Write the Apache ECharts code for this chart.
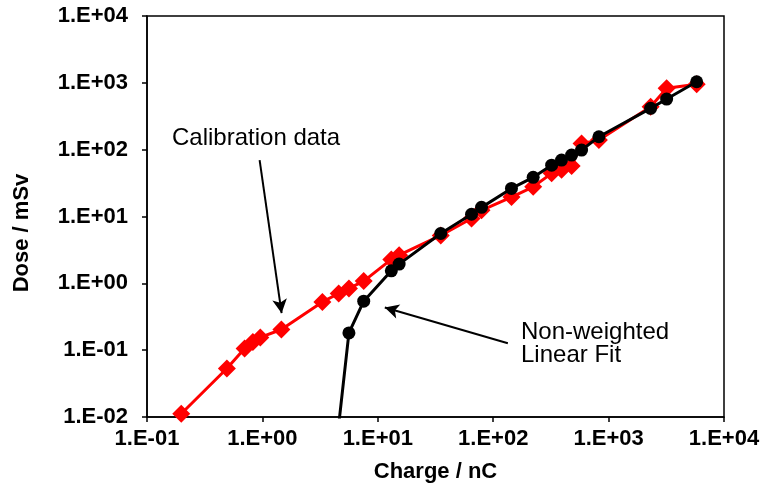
<!DOCTYPE html>
<html>
<head>
<meta charset="utf-8">
<script src="https://cdn.jsdelivr.net/npm/echarts@6/dist/echarts.min.js"></script>
<style>
html,body{margin:0;padding:0;background:#fff;}
#chart{width:763px;height:487px;}
</style>
</head>
<body>
<div id="chart"></div>
<script>
// Charge (nC) values shared by both series
const charge = [0.198, 0.492, 0.701, 0.827, 0.959, 1.46, 3.31, 4.58, 5.62, 7.55, 13.1, 15.3,
  35.1, 64.9, 79.2, 144, 222, 321, 391, 478, 583, 824, 2312, 3184, 5796];
// Calibration data (Dose / mSv)
const doseCalibration = [0.0112, 0.0531, 0.106, 0.133, 0.155, 0.204, 0.527, 0.705, 0.838, 1.08, 2.28, 2.64,
  5.2, 9.35, 12.4, 19.5, 27.8, 44.2, 50, 57, 124, 139, 439, 828, 950];
// Non-weighted linear fit (Dose / mSv); null where fit is non-positive
const doseFit = [null, null, null, null, null, null, null, 0.0075, 0.181, 0.541, 1.54, 1.94,
  5.57, 10.8, 13.7, 26.3, 38.5, 58.7, 69.8, 83, 98.6, 156, 415, 572, 1038];

// axis ranges
const xRange = [0.1, 10000];
const yRange = [0.01, 10000];

// annotation arrows [from, to] in data coordinates
const arrowCalibration = [[0.946, 69.8], [1.467, 0.357]];
const arrowFit = [[134, 0.127], [11.5, 0.434]];

const fontFamily = 'Liberation Sans, Arial, sans-serif';

function expLabel(v) {
  const e = Math.round(Math.log10(v));
  return '1.E' + (e < 0 ? '-' : '+') + String(Math.abs(e)).padStart(2, '0');
}

const chart = echarts.init(document.getElementById('chart'), null, {renderer: 'canvas'});

const option = {
  animation: false,
  backgroundColor: '#fff',
  grid: {
    left: 147, right: 39, top: 16, bottom: 70,
    outerBoundsMode: 'none', containLabel: false,
    show: true, borderColor: '#000', borderWidth: 1.5, backgroundColor: 'transparent'
  },
  xAxis: {
    type: 'log', logBase: 10, min: xRange[0], max: xRange[1],
    name: 'Charge / nC', nameLocation: 'middle', nameGap: 44,
    nameTextStyle: {fontFamily, fontSize: 22, fontWeight: 'bold', color: '#000'},
    axisLine: {lineStyle: {color: '#000', width: 1.5}},
    axisTick: {show: true, inside: false, length: 5, lineStyle: {color: '#000', width: 1.5}},
    minorTick: {show: false},
    splitLine: {show: false},
    axisLabel: {formatter: expLabel, fontFamily, fontSize: 22, fontWeight: 'bold', color: '#000', margin: 11}
  },
  yAxis: {
    type: 'log', logBase: 10, min: yRange[0], max: yRange[1],
    axisLine: {show: true, lineStyle: {color: '#000', width: 1.5}},
    axisTick: {show: true, inside: false, length: 5, lineStyle: {color: '#000', width: 1.5}},
    minorTick: {show: false},
    splitLine: {show: false},
    axisLabel: {formatter: expLabel, fontFamily, fontSize: 22, fontWeight: 'bold', color: '#000', margin: 19}
  },
  graphic: [
    {type: 'text', x: 22, y: 233, rotation: Math.PI / 2, silent: true,
      style: {text: 'Dose / mSv', font: 'bold 22px ' + fontFamily, fill: '#000',
        textAlign: 'center', textVerticalAlign: 'middle'}},
    {type: 'text', x: 172, y: 138, silent: true,
      style: {text: 'Calibration data', font: '24px ' + fontFamily, fill: '#000',
        textAlign: 'left', textVerticalAlign: 'middle'}},
    {type: 'text', x: 521, y: 332, silent: true,
      style: {text: 'Non-weighted', font: '24px ' + fontFamily, fill: '#000',
        textAlign: 'left', textVerticalAlign: 'middle'}},
    {type: 'text', x: 521, y: 355, silent: true,
      style: {text: 'Linear Fit', font: '24px ' + fontFamily, fill: '#000',
        textAlign: 'left', textVerticalAlign: 'middle'}}
  ],
  series: [
    {
      name: 'Calibration data', type: 'line',
      data: charge.map((c, i) => [c, doseCalibration[i]]),
      symbol: 'diamond', symbolSize: 18,
      itemStyle: {color: '#ff0000'},
      lineStyle: {color: '#ff0000', width: 3},
      clip: true, z: 2
    },
    {
      name: 'Non-weighted Linear Fit', type: 'line',
      data: charge.map((c, i) => [c, doseFit[i]]),
      symbol: 'circle', symbolSize: 13,
      itemStyle: {color: '#000'},
      lineStyle: {color: '#000', width: 3},
      clip: true, z: 3,
      markLine: {
        silent: true, animation: false,
        symbol: ['none', 'arrow'], symbolSize: [11, 14],
        lineStyle: {color: '#000', width: 2, type: 'solid'},
        label: {show: false},
        data: [
          [{coord: arrowCalibration[0]}, {coord: arrowCalibration[1]}],
          [{coord: arrowFit[0]}, {coord: arrowFit[1]}]
        ]
      }
    }
  ]
};
chart.setOption(option);
</script>
</body>
</html>
